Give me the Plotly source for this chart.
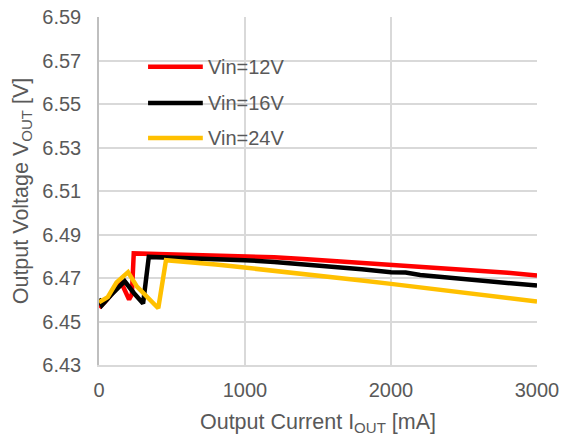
import plotly.graph_objects as go

# Output current (mA) and output voltage (V) for each input voltage
i_12v = [0, 40, 90, 153, 206, 225, 238, 300, 400, 500, 600, 700, 800, 900, 1000,
         1200, 1400, 1600, 1800, 2000, 2200, 2400, 2600, 2800, 3000]
v_12v = [6.4564, 6.4590, 6.4630, 6.4678, 6.4601, 6.4625, 6.4813, 6.4812, 6.4809, 6.4808,
         6.4807, 6.4806, 6.4805, 6.4803, 6.4801, 6.4795, 6.4787, 6.4778, 6.4770, 6.4762,
         6.4753, 6.4744, 6.4735, 6.4724, 6.4712]

i_16v = [0, 20, 80, 176, 240, 302, 341, 400, 500, 600, 700, 800, 900, 1000,
         1200, 1400, 1600, 1800, 2000, 2100, 2200, 2400, 2600, 2800, 3000]
v_16v = [6.4605, 6.4575, 6.4620, 6.4685, 6.4630, 6.4583, 6.4797, 6.4796, 6.4793, 6.4790,
         6.4788, 6.4786, 6.4784, 6.4782, 6.4774, 6.4764, 6.4752, 6.4740, 6.4727, 6.4725,
         6.4714, 6.4702, 6.4690, 6.4678, 6.4665]

i_24v = [0, 60, 120, 199, 260, 330, 406, 459, 500, 600, 700, 800, 900, 1000,
         1200, 1400, 1600, 1800, 2000, 2200, 2400, 2500, 2600, 2800, 3000]
v_24v = [6.4588, 6.4612, 6.4680, 6.4727, 6.4660, 6.4612, 6.4561, 6.4782, 6.4780, 6.4774,
         6.4768, 6.4762, 6.4755, 6.4748, 6.4735, 6.4720, 6.4705, 6.4689, 6.4673, 6.4657,
         6.4640, 6.4630, 6.4626, 6.4610, 6.4592]

series = [
    ("Vin=12V", i_12v, v_12v, "#ff0000"),
    ("Vin=16V", i_16v, v_16v, "#000000"),
    ("Vin=24V", i_24v, v_24v, "#ffc000"),
]

x_ticks = [0, 1000, 2000, 3000]
y_ticks = [6.43, 6.45, 6.47, 6.49, 6.51, 6.53, 6.55, 6.57, 6.59]

font_family = "Liberation Sans, Arial, sans-serif"
text_color = "#595959"
grid_color = "#d9d9d9"
font_size = 20
title_size = 21.5

fig = go.Figure()
for name, xs, ys, color in series:
    fig.add_trace(go.Scatter(x=xs, y=ys, mode="lines", name=name,
                             line=dict(color=color, width=4.5),
                             showlegend=False))

# Legend drawn as line swatches with labels inside the plot area
legend_y = [0.857, 0.753, 0.652]
for (name, _, _, color), ly in zip(series, legend_y):
    fig.add_shape(type="line", xref="paper", yref="paper",
                  x0=0.112, x1=0.237, y0=ly, y1=ly,
                  line=dict(color=color, width=4.5))
    fig.add_annotation(xref="paper", yref="paper", x=0.245, y=ly,
                       text=name, showarrow=False, xanchor="left", yanchor="middle",
                       font=dict(family=font_family, size=font_size, color=text_color))

fig.update_layout(
    width=561, height=440,
    margin=dict(l=99, r=24, t=17, b=75),
    paper_bgcolor="white", plot_bgcolor="white",
    font=dict(family=font_family, size=font_size, color=text_color),
)
fig.update_xaxes(
    range=[0, 3000], tickvals=x_ticks, ticktext=[str(v) for v in x_ticks],
    showgrid=True, gridcolor=grid_color, gridwidth=1.5,
    showline=True, linecolor=grid_color, linewidth=1.5,
    zeroline=False, ticks="", ticklen=0, automargin=False,
    ticklabelstandoff=6,
    tickfont=dict(size=font_size, color=text_color),
    title=dict(text="Output Current I<sub>OUT</sub> [mA]",
               font=dict(size=title_size, color=text_color), standoff=14),
)
fig.update_yaxes(
    range=[6.43, 6.59], tickvals=y_ticks, ticktext=[f"{v:.2f}" for v in y_ticks],
    showgrid=True, gridcolor=grid_color, gridwidth=1.5,
    showline=True, linecolor="#bfbfbf", linewidth=1.5,
    zeroline=False, ticks="", ticklen=0, automargin=False,
    ticklabelstandoff=12,
    tickfont=dict(size=font_size, color=text_color),
    title=dict(text="Output Voltage V<sub>OUT</sub> [V]",
               font=dict(size=title_size, color=text_color), standoff=8),
)

fig.write_html("out.html")
